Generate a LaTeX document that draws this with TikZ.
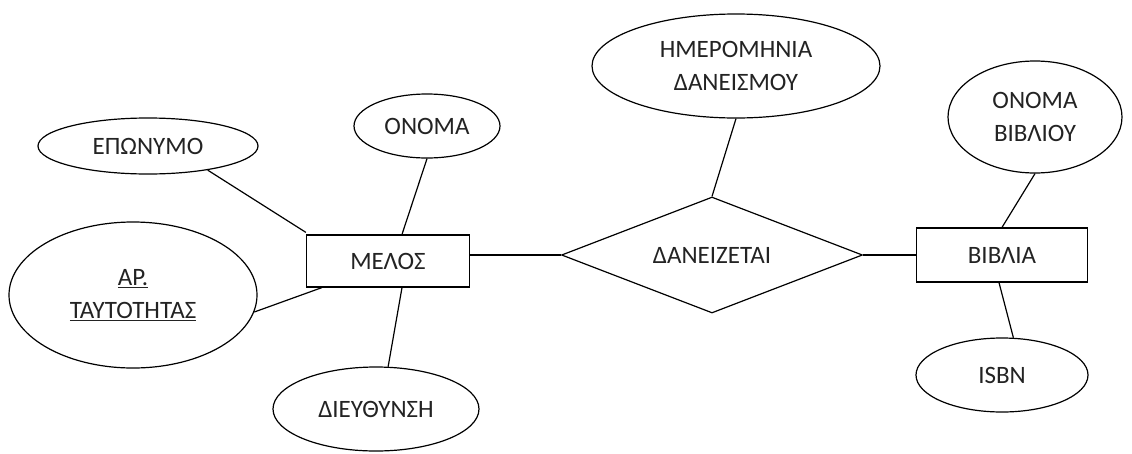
\documentclass[tikz,border=0pt]{standalone}
\usepackage{fontspec}
\setmainfont{Carlito}
\usetikzlibrary{shapes.geometric}
\definecolor{txt}{RGB}{35,35,35}
\begin{document}
\begin{tikzpicture}[x=1pt,y=-1pt,
  every node/.style={font=\fontsize{25}{33}\selectfont, text=txt, align=center, inner sep=0pt},
  attr/.style={draw, line width=1.2pt, ellipse},
  ent/.style={draw, line width=1.2pt, rectangle},
  rel/.style={draw, line width=1.2pt, diamond, aspect=2.6},
  conn/.style={line width=1.2pt}]
\useasboundingbox (0,0) rectangle (1132,453);
\fill[white] (0,0) rectangle (1132,453);
% entities
\node[ent, minimum width=163pt, minimum height=52pt] (melos) at (388,261) {ΜΕΛΟΣ};
\node[ent, minimum width=171pt, minimum height=54pt] (biblia) at (1002,255) {ΒΙΒΛΙΑ};
% relationship
\node[rel, minimum width=301pt, minimum height=116pt] (dan) at (712,255) {ΔΑΝΕΙΖΕΤΑΙ};
% attributes
\node[attr, minimum width=220pt, minimum height=56pt] (epon) at (148,146) {ΕΠΩΝΥΜΟ};
\node[attr, minimum width=248pt, minimum height=146pt] (arta) at (133,295) {\underline{ΑΡ.}\\\underline{ΤΑΥΤΟΤΗΤΑΣ}};
\node[attr, minimum width=146pt, minimum height=64pt] (onoma) at (427,126) {ΟΝΟΜΑ};
\node[attr, minimum width=206pt, minimum height=84pt] (dieuth) at (376,409) {ΔΙΕΥΘΥΝΣΗ};
\node[attr, minimum width=288pt, minimum height=104pt] (imer) at (736,66) {ΗΜΕΡΟΜΗΝΙΑ\\ΔΑΝΕΙΣΜΟΥ};
\node[attr, minimum width=174pt, minimum height=112pt] (onbib) at (1035,117) {ΟΝΟΜΑ\\ΒΙΒΛΙΟΥ};
\node[attr, minimum width=172pt, minimum height=74pt] (isbn) at (1002,375) {ISBN};
% connectors
\draw[conn] (epon.-22) -- ([yshift=2pt]melos.north west);
\draw[conn] (arta.-8) -- ([xshift=16pt]melos.south west);
\draw[conn] (onoma.south) -- ([xshift=14pt]melos.north);
\draw[conn] ([xshift=14pt]melos.south) -- (dieuth.74);
\draw[conn] (melos.east |- dan.west) -- (dan.west);
\draw[conn] (imer.south) -- (dan.north);
\draw[conn] (dan.east) -- (biblia.west);
\draw[conn] (onbib.south) -- (biblia.north);
\draw[conn] ([xshift=-3pt]biblia.south) -- (isbn.73);
\end{tikzpicture}
\end{document}
